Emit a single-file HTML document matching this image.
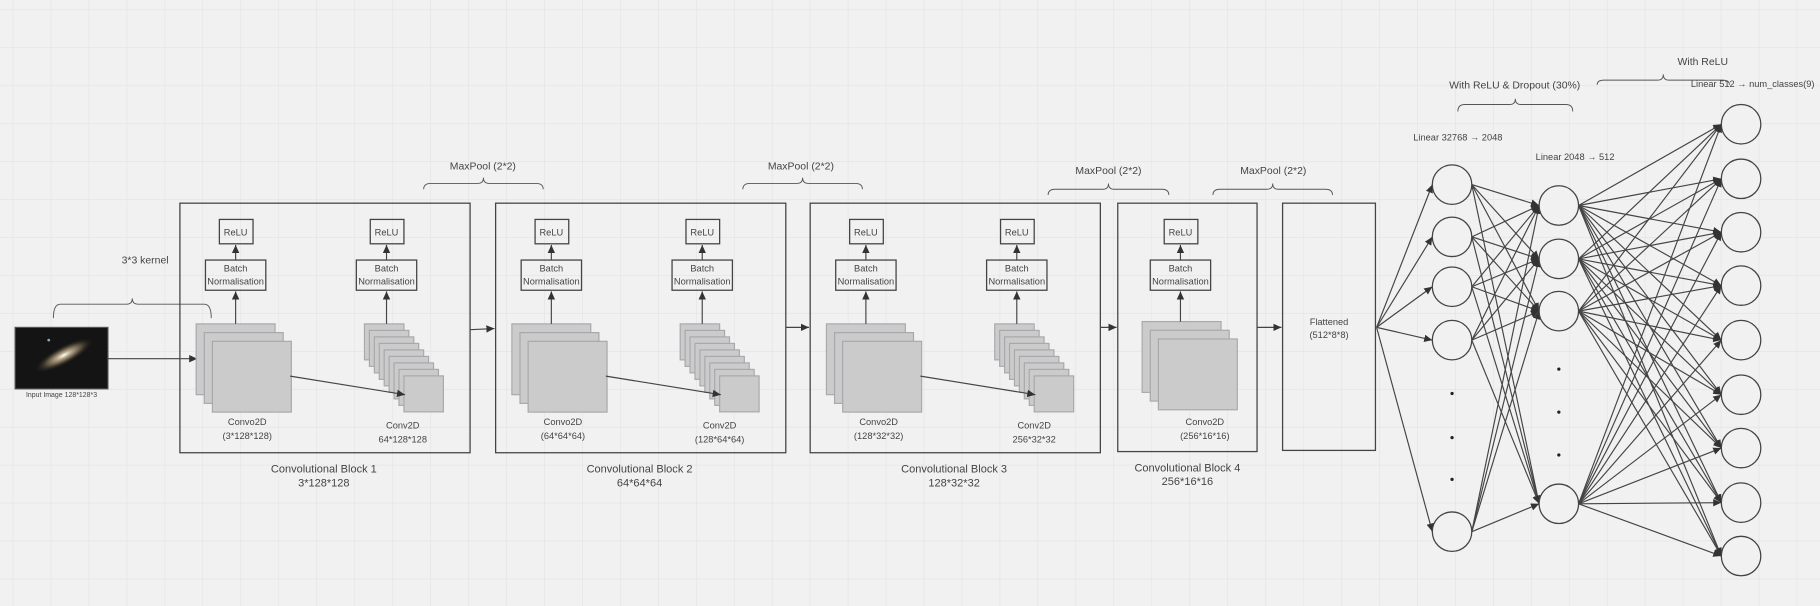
<!DOCTYPE html>
<html><head><meta charset="utf-8"><style>
html,body{margin:0;padding:0;background:#f1f1f1;}
svg{display:block;}
text{font-family:"Liberation Sans",sans-serif;fill:#444;}
</style></head><body>
<svg id="s" width="1820" height="606" viewBox="0 0 1568 522" xmlns="http://www.w3.org/2000/svg">
<defs>
<pattern id="g" width="32.7" height="32.7" patternUnits="userSpaceOnUse" x="11" y="8">
<path d="M0 0H32.7M0 0V32.7" stroke="#e2e2e2" stroke-width="1" fill="none"/>
</pattern>
<marker id="a" markerWidth="8" markerHeight="8" refX="7" refY="4" orient="auto" markerUnits="userSpaceOnUse">
<path d="M0,0.8 L7,4 L0,7.2 Z" fill="#333"/>
</marker>
<radialGradient id="gal" cx="0.5" cy="0.5" r="0.5">
<stop offset="0" stop-color="#fff"/><stop offset="0.25" stop-color="#b8a88a"/><stop offset="0.7" stop-color="#3a3428"/><stop offset="1" stop-color="#1a1a1a" stop-opacity="0"/>
</radialGradient>
</defs>
<rect width="1568" height="522" fill="#f1f1f1"/>
<rect width="1568" height="522" fill="url(#g)"/>
<g id="main" stroke="#444" fill="none" stroke-width="1"></g>
<g font-size="9" text-anchor="middle">
<text x="125" y="227">3*3 kernel</text>
<text x="53" y="342" font-size="6">Input Image 128*128*3</text>
<text x="416" y="146">MaxPool (2*2)</text>
<text x="690" y="146">MaxPool (2*2)</text>
<text x="955" y="150">MaxPool (2*2)</text>
<text x="1097" y="150">MaxPool (2*2)</text>
<text x="279" y="407" font-size="9.5">Convolutional Block 1</text>
<text x="279" y="419" font-size="9.5">3*128*128</text>
<text x="551" y="407" font-size="9.5">Convolutional Block 2</text>
<text x="551" y="419" font-size="9.5">64*64*64</text>
<text x="822" y="407" font-size="9.5">Convolutional Block 3</text>
<text x="822" y="419" font-size="9.5">128*32*32</text>
<text x="1023" y="406" font-size="9.5">Convolutional Block 4</text>
<text x="1023" y="418" font-size="9.5">256*16*16</text>
<text x="213" y="366" font-size="8">Convo2D</text><text x="213" y="378" font-size="8">(3*128*128)</text>
<text x="347" y="369" font-size="8">Conv2D</text><text x="347" y="381" font-size="8">64*128*128</text>
<text x="485" y="366" font-size="8">Convo2D</text><text x="485" y="378" font-size="8">(64*64*64)</text>
<text x="620" y="369" font-size="8">Conv2D</text><text x="620" y="381" font-size="8">(128*64*64)</text>
<text x="757" y="366" font-size="8">Convo2D</text><text x="757" y="378" font-size="8">(128*32*32)</text>
<text x="891" y="369" font-size="8">Conv2D</text><text x="891" y="381" font-size="8">256*32*32</text>
<text x="1038" y="366" font-size="8">Convo2D</text><text x="1038" y="378" font-size="8">(256*16*16)</text>
<text x="1145" y="280" font-size="8">Flattened</text><text x="1145" y="291" font-size="8">(512*8*8)</text>
<text x="1256" y="121" font-size="8">Linear 32768 → 2048</text>
<text x="1357" y="138" font-size="8">Linear 2048 → 512</text>
<text x="1305" y="76" font-size="9">With ReLU &amp; Dropout (30%)</text>
<text x="1467" y="56" font-size="9">With ReLU</text>
<text x="1510" y="75" font-size="8">Linear 512 → num_classes(9)</text>
</g>
<g id="boxtext" font-size="8" text-anchor="middle"></g>
</svg>
<script>
const NS="http://www.w3.org/2000/svg";
const m=document.getElementById('main'), bt=document.getElementById('boxtext');
function el(t,a,p){const e=document.createElementNS(NS,t);for(const k in a)e.setAttribute(k,a[k]);(p||m).appendChild(e);return e;}
function ln(x1,y1,x2,y2,ar){const e=el('line',{x1,y1,x2,y2});if(ar!==false)e.setAttribute('marker-end','url(#a)');return e;}
function txt(x,y,t){const e=el('text',{x,y},bt);e.textContent=t;}
function brace(x1,x2,y,d){const mid=(x1+x2)/2;el('path',{d:`M${x1},${y+d} Q${x1},${y} ${x1+6},${y} L${mid-5},${y} Q${mid},${y} ${mid},${y-5} Q${mid},${y} ${mid+5},${y} L${x2-6},${y} Q${x2},${y} ${x2},${y+d}`,'stroke-width':0.8,stroke:'#555'});}
el('rect',{x:13,y:282,width:80,height:53,fill:'#141414',stroke:'#555'});
el('ellipse',{cx:55,cy:306,rx:28,ry:8,fill:'url(#gal)',transform:'rotate(-28 55 306)',stroke:'none'});
el('circle',{cx:42,cy:293,r:1.2,fill:'#8ab',stroke:'none'});
ln(93,309,170,309);
brace(46,182,262,12);
brace(365,468,158,5);brace(640,743,158,5);brace(903,1007,163,5);brace(1045,1148,163,5);
brace(1256,1355,90,6);brace(1376,1490,69,4);
function sub(cx,sy){
  el('rect',{x:cx-14,y:189,width:29,height:21,'stroke-width':1.1});
  el('rect',{x:cx-26,y:224,width:52,height:26,'stroke-width':1.1});
  ln(cx,224,cx,211);ln(cx,sy,cx,251);
  txt(cx,203,'ReLU');txt(cx,234,'Batch');txt(cx,245,'Normalisation');
}
function big(x,y){for(let i=0;i<3;i++)el('rect',{x:x+i*7,y:y+i*7.5,width:68,height:61,fill:'#cbcbcb',stroke:'#a8a8ac'});}
function small(x,y){for(let i=0;i<9;i++)el('rect',{x:x+i*4.25,y:y+i*5.6,width:34,height:31,fill:'#cbcbcb',stroke:'#a8a8ac'});}
[155,427,698].forEach(b=>{
  el('rect',{x:b,y:175,width:250,height:215,'stroke-width':1.1});
  big(b+14,279);sub(b+48,279);
  small(b+159,279);sub(b+178,279);
  ln(b+95,324,b+194,340);
});
el('rect',{x:963,y:175,width:120,height:214,'stroke-width':1.1});
big(984,277);sub(1017,277);
el('rect',{x:1105,y:175,width:80,height:213,'stroke-width':1.1});
ln(405,284,426,283);ln(677,282,697,282);ln(948,282,962,282);ln(1083,282,1104,282);
const r=17;
const L1=[159,204,247,293,458].map(y=>[1251,y]);
const L2=[177,223,268,434].map(y=>[1343,y]);
const L3=[107,154,200,246,293,340,386,433,479].map(y=>[1500,y]);
L1.forEach(([x,y])=>ln(1186,282,x-r,y));
L1.forEach(([x,y])=>L2.forEach(([x2,y2])=>ln(x+r,y,x2-r,y2)));
L2.forEach(([x,y])=>L3.forEach(([x2,y2])=>ln(x+r,y,x2-r,y2)));
[...L1,...L2,...L3].forEach(([x,y])=>el('ellipse',{cx:x,cy:y,rx:r,ry:17,fill:'#f1f1f1','stroke-width':1.1}));
[339,377,413].forEach(y=>el('circle',{cx:1251,cy:y,r:1.4,fill:'#222',stroke:'none'}));
[318,355,392].forEach(y=>el('circle',{cx:1343,cy:y,r:1.4,fill:'#222',stroke:'none'}));
</script>
</body></html>
